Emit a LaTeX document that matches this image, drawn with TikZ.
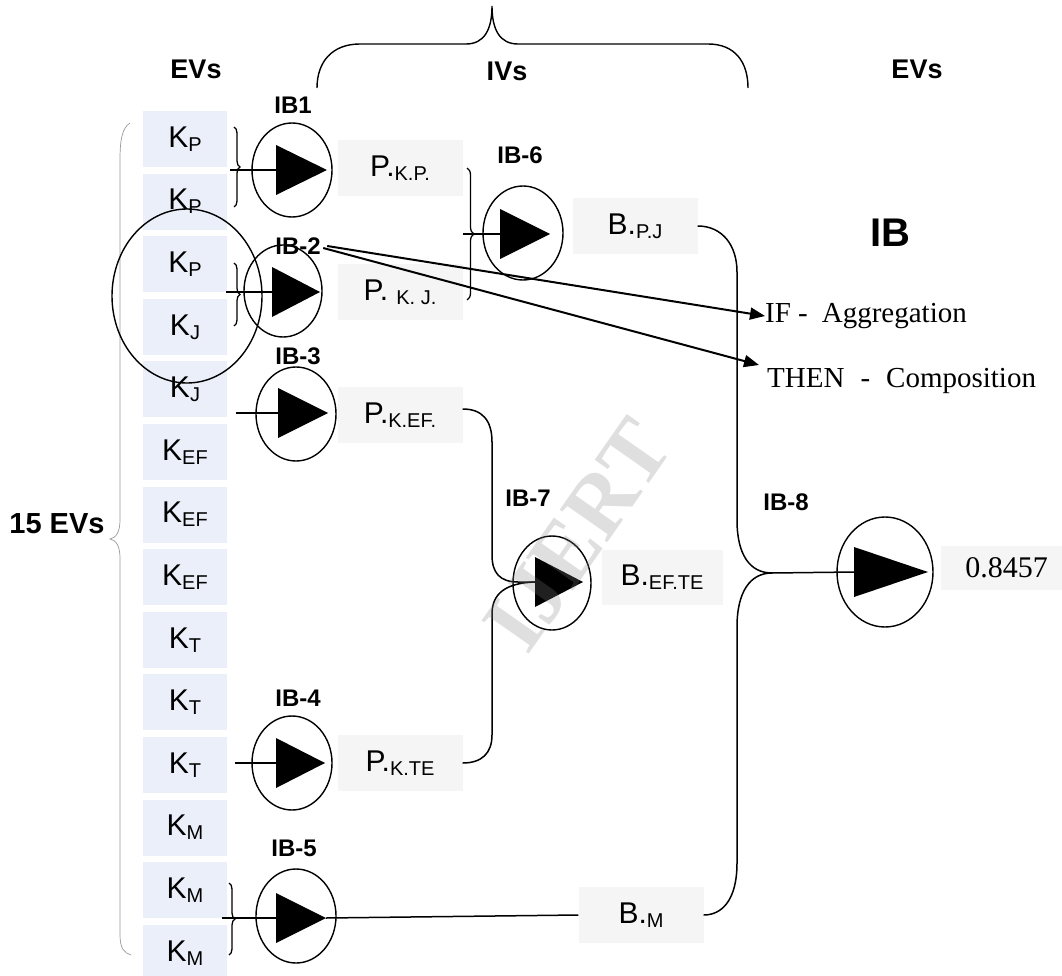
\documentclass[tikz,border=0pt]{standalone}
\usepackage{fontspec}
\setmainfont{Liberation Serif}
\setsansfont{Liberation Sans}
\usetikzlibrary{shapes.geometric,decorations.pathreplacing,arrows.meta}
\definecolor{kblue}{RGB}{234,239,249}
\definecolor{pgray}{RGB}{245,245,245}
\newcommand\fsz[1]{\fontsize{#1}{#1}\selectfont}
\newcommand\sbx[1]{\raisebox{-4pt}{\fsz{20}#1}}
\newcommand\ibtri[4]{%
  \fill ([shift={(#2,{-25+(#4)})}]#1.center) -- ([shift={(#3,#4)}]#1.center) -- ([shift={(#2,{25+(#4)})}]#1.center) -- cycle;
  \coordinate (#1in) at ([shift={(#2,#4)}]#1.center);
  \coordinate (#1out) at ([shift={(#3,#4)}]#1.center);}
\begin{document}
\begin{tikzpicture}[x=1pt,y=-1pt,
  kbox/.style={fill=kblue,minimum width=84pt,minimum height=56pt,inner sep=0pt,font=\sffamily\fsz{30}},
  pbox/.style={fill=pgray,minimum width=125pt,minimum height=56pt,inner sep=0pt,font=\sffamily\fsz{30}},
  gate/.style={draw,line width=1.4pt,ellipse,minimum width=80pt,minimum height=94pt,inner sep=0pt},
  lbl/.style={font=\sffamily\bfseries\fsz{24}},
  hdr/.style={font=\sffamily\bfseries\fsz{27}},
  wire/.style={line width=1.5pt},
  brc/.style={line width=1.3pt,decorate,decoration={brace,amplitude=6pt}},
  arr/.style={line width=2pt,-{Triangle[length=15pt,width=12pt]}},
  ttext/.style={font=\fsz{29},anchor=west,inner sep=0pt}]
\useasboundingbox (0,0) rectangle (1062,976);

% K boxes
\foreach \s [count=\i from 0] in {P,P,P,J,J,EF,EF,EF,T,T,T,M,M,M}
  \node[kbox] (k\i) at (185,{139+62.6*\i}) {K\sbx{\s}};

% P / B boxes
\node[pbox] (pkp) at (400,168) {P.\sbx{K.P.}};
\node[pbox] (pkj) at (400,292) {P. \sbx{K. J.}};
\node[pbox] (pkef) at (400,415) {P.\sbx{K.EF.}};
\node[pbox] (pkte) at (400,763) {P.\sbx{K.TE}};
\node[pbox] (bpj) at (635,226) {B.\sbx{P.J}};
\node[pbox,minimum width=121pt,minimum height=55pt] (bef) at (662,577) {B.\sbx{EF.TE}};
\node[pbox] (bm) at (641,915) {B.\sbx{M}};
\node[fill=pgray,minimum width=121pt,minimum height=44pt,inner sep=0pt,font=\fsz{30}] (res) at (1001.5,568) {\hspace{10pt}0.8457};

% headers
\node[hdr] (ev1) at (196,69) {EVs};
\node[hdr] (ivs) at (507,71) {IVs};
\node[hdr] (ev2) at (917,69) {EVs};
\node[font=\sffamily\bfseries\fsz{40}] (ibt) at (890,233) {IB};
\node[font=\sffamily\bfseries\fsz{29}] (ev15) at (57,524) {15 EVs};

% top brace
\draw[line width=1.4pt] (317,88) .. controls (317,62) and (332,44) .. (360,44) -- (466,44)
  .. controls (484,44) and (492,30) .. (492,6) .. controls (492,30) and (500,44) .. (518,44)
  -- (708,44) .. controls (735,44) and (748,62) .. (748,88);

% 15 EVs brace
\draw[gray!80,line width=0.7pt] (130,123) .. controls (122,128) and (120,140) .. (120,160) -- (120,520)
  .. controls (120,532) and (116,538) .. (110,539) .. controls (116,540) and (120,546) .. (120,558)
  -- (120,935) .. controls (120,948) and (124,953) .. (131,955);

% gates
\node[gate] (ib1) at (292,170) {};
\node[gate,minimum width=78pt,minimum height=92pt] (ib2) at (283,291) {};
\node[gate] (ib3) at (296,414) {};
\node[gate] (ib4) at (292,763) {};
\node[gate] (ib5) at (296,916) {};
\node[gate] (ib6) at (523,233) {};
\node[gate,minimum width=78pt] (ib7) at (552,583) {};
\node[gate,minimum width=96pt,minimum height=110pt] (ib8) at (885,572) {};
\ibtri{ib1}{-16}{35}{0}
\ibtri{ib2}{-11}{37}{1}
\ibtri{ib3}{-18}{32}{-1}
\ibtri{ib4}{-16}{33}{0}
\ibtri{ib5}{-20}{30}{2}
\ibtri{ib6}{-23}{27}{1}
\ibtri{ib7}{-17}{31}{-1}
\ibtri{ib8}{-31}{43}{0}

% group ellipse
\node[draw,ellipse,line width=1.4pt,minimum width=150pt,minimum height=174pt,inner sep=0pt] (grp) at (187,296) {};

% gate labels
\node[lbl] (l1) at (293,105) {IB1};
\node[lbl] (l2) at (298,246) {IB-2};
\node[lbl] (l3) at (298,356) {IB-3};
\node[lbl] (l4) at (298,698) {IB-4};
\node[lbl] (l5) at (294,848) {IB-5};
\node[lbl] (l6) at (520,155) {IB-6};
\node[lbl] (l7) at (528,498) {IB-7};
\node[lbl] (l8) at (786,502) {IB-8};

% small braces
\draw[brc] (234,127) -- (234,207);
\draw[brc] (234,263) -- (234,326);
\draw[brc] (229,883) -- (229,955);
\draw[brc,decoration={amplitude=7pt}] (467,168) -- (467,300);

% input lines
\coordinate (s1) at (230,170);
\coordinate (s2) at (226,292);
\coordinate (s3) at (236,413);
\coordinate (s4) at (235,763);
\coordinate (s5) at (222,918);
\coordinate (s6) at (463,234);
\draw[wire] (s1) -- (ib1in);
\draw[wire] (s2) -- (ib2in);
\draw[wire] (s3) -- (ib3in);
\draw[wire] (s4) -- (ib4in);
\draw[wire] (s5) -- (ib5in);
\draw[wire] (s6) -- (ib6in);
\draw[wire] (ib5out) -- (bm.west);

% IB-7 connectors
\draw[wire] ([shift={(0,-6)}]pkef.east) .. controls (482,409) and (492,420) .. (492,442) -- (492,555)
  .. controls (492,573) and (500,582) .. (518,582) -- (ib7in);
\draw[wire] (ib7in) .. controls (505,583) and (492,594) .. (492,614) -- (492,735)
  .. controls (492,753) and (482,763) .. (pkte.east);

% IB-8 connectors
\coordinate (j8) at (772,573);
\draw[wire] (bpj.east) .. controls (722,226) and (737,245) .. (737,272) -- (737,520)
  .. controls (737,555) and (750,573) .. (j8) -- (ib8in);
\draw[wire] (j8) .. controls (750,573) and (737,592) .. (737,627) -- (737,863)
  .. controls (737,900) and (722,915) .. (bm.east);

% IF / THEN
\node[ttext] (ift) at (765,316) {IF -\hspace{14pt}Aggregation};
\node[ttext] (thn) at (767,381) {THEN\hspace{16pt}-\hspace{16pt}Composition};
\draw[arr] ([shift={(3,0)}]l2.east) -- (ift.west);
\draw[arr] ([shift={(-1,2)}]l2.east) -- ([shift={(-8,-16)}]thn.west);

% watermark
\node[rotate=55,text=gray,opacity=0.25,font=\bfseries\fsz{88}] (wm) at (578,535) {IJERT};
\end{tikzpicture}
\end{document}
